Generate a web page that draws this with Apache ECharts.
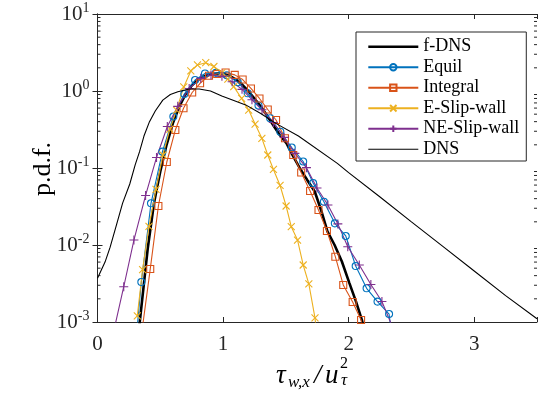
<!DOCTYPE html>
<html>
<head>
<meta charset="utf-8">
<script src="https://cdn.jsdelivr.net/npm/echarts@6/dist/echarts.min.js"></script>
<style>
  html, body { margin: 0; padding: 0; background: #fff; }
  #chart { width: 540px; height: 400px; }
</style>
</head>
<body>
<div id="chart"></div>
<script>
// f-DNS (thick black, no markers)
const fdnsX = [0.33, 0.35, 0.40, 0.45, 0.50, 0.55, 0.60, 0.65, 0.70, 0.75, 0.80, 0.85, 0.90, 0.95, 1.00,
  1.05, 1.10, 1.15, 1.20, 1.25, 1.30, 1.35, 1.40, 1.45, 1.506, 1.55, 1.612, 1.67, 1.73, 1.78, 1.831,
  1.888, 1.946, 2.006, 2.058, 2.106, 2.15];
const fdnsY = [0.0008, 0.0016, 0.009, 0.035, 0.09, 0.2, 0.38, 0.62, 0.9, 1.18, 1.4, 1.55, 1.64, 1.68, 1.68,
  1.58, 1.42, 1.22, 1.0, 0.8, 0.63, 0.48, 0.36, 0.27, 0.209, 0.15, 0.099, 0.07, 0.0495, 0.0285, 0.015,
  0.01, 0.0061, 0.0032, 0.00185, 0.00106, 0.0005];

// Equil (blue circles)
const equilX = [0.264, 0.349, 0.426, 0.517, 0.604, 0.691, 0.777, 0.856, 0.943, 1.030, 1.117, 1.196, 1.282,
  1.375, 1.456, 1.547, 1.638, 1.717, 1.803, 1.890, 1.977, 2.056, 2.143, 2.230, 2.322, 2.41];
const equilY = [0.0001, 0.0033, 0.0348, 0.163, 0.467, 0.914, 1.39, 1.69, 1.72, 1.6, 1.3, 0.933, 0.649,
  0.442, 0.296, 0.1845, 0.1214, 0.0638, 0.0365, 0.0191, 0.0131, 0.00533, 0.00274, 0.00184, 0.00127, 0.0001];

// Integral (orange squares)
const integralX = [0.353, 0.420, 0.485, 0.552, 0.620, 0.685, 0.754, 0.817, 0.888, 0.953, 1.020, 1.093, 1.156,
  1.222, 1.290, 1.356, 1.422, 1.493, 1.559, 1.622, 1.693, 1.760, 1.827, 1.894, 1.957, 2.032, 2.099, 2.166];
const integralY = [0.00074, 0.00487, 0.0321, 0.1197, 0.312, 0.596, 0.956, 1.26, 1.58, 1.66, 1.74, 1.62, 1.41,
  1.08, 0.80, 0.575, 0.42, 0.243, 0.1475, 0.0875, 0.0503, 0.0285, 0.0152, 0.00705, 0.00303, 0.00182, 0.00106, 0.0004];

// E-Slip-wall (yellow crosses)
const eslipX = [0.317, 0.359, 0.410, 0.466, 0.521, 0.576, 0.630, 0.687, 0.743, 0.796, 0.862, 0.927, 0.991,
  1.038, 1.085, 1.148, 1.204, 1.255, 1.309, 1.356, 1.401, 1.454, 1.502, 1.543, 1.593, 1.638, 1.683, 1.732, 1.78];
const eslipY = [0.0012, 0.0048, 0.0174, 0.0526, 0.1475, 0.32, 0.566, 1.13, 1.82, 2.18, 2.33, 2.08, 1.73,
  1.43, 1.14, 0.80, 0.566, 0.372, 0.243, 0.1475, 0.0957, 0.0593, 0.0321, 0.0173, 0.0116, 0.0055, 0.00312, 0.00113, 0.0002];

// NE-Slip-wall (purple plus)
const neslipX = [0.126, 0.209, 0.290, 0.383, 0.470, 0.556, 0.639, 0.730, 0.822, 0.904, 0.991, 1.072, 1.151,
  1.230, 1.31, 1.40, 1.486, 1.572, 1.664, 1.748, 1.835, 1.914, 1.993, 2.085, 2.177, 2.265, 2.356];
const neslipY = [0.00072, 0.00287, 0.0116, 0.044, 0.137, 0.346, 0.632, 1.08, 1.46, 1.61, 1.55, 1.32, 1.05,
  0.77, 0.57, 0.39, 0.25, 0.155, 0.101, 0.055, 0.033, 0.0188, 0.0095, 0.0055, 0.00307, 0.00185, 0.00081];

// DNS (thin black)
const dnsX = [0, 0.06, 0.1, 0.15, 0.2, 0.257, 0.3, 0.335, 0.37, 0.414, 0.46, 0.52, 0.58, 0.64, 0.73, 0.81,
  0.9, 0.99, 1.08, 1.18, 1.3, 1.42, 1.6, 1.91, 2.0, 2.25, 2.5, 2.75, 3.0, 3.25, 3.5];
const dnsY = [0.0037, 0.006, 0.0093, 0.018, 0.035, 0.062, 0.11, 0.163, 0.26, 0.40, 0.55, 0.76, 0.90, 0.98, 1.06, 1.06,
  1.0, 0.86, 0.76, 0.66, 0.51, 0.38, 0.26, 0.115, 0.087, 0.042, 0.020, 0.0096, 0.0046, 0.0022, 0.0011];

const xTicks = [0, 1, 2, 3];
const yMinorTicks = [];
for (let e = -3; e < 1; e++) {
  for (let m = 2; m <= 9; m++) yMinorTicks.push(m * Math.pow(10, e));
}

const blue = '#0072BD', orange = '#D95319', yellow = '#EDB120', purple = '#7E2F8E';
const axisColor = '#262626';
const serif = 'Liberation Serif';

// plain line entries in the legend: hide the symbol
const noSymbol = { color: 'rgba(0,0,0,0)', borderColor: 'rgba(0,0,0,0)', borderWidth: 0 };
const legendData = [
  { name: 'f-DNS', itemStyle: noSymbol, lineStyle: { width: 2.6, color: '#000' } },
  { name: 'Equil' },
  { name: 'Integral' },
  { name: 'E-Slip-wall' },
  { name: 'NE-Slip-wall' },
  { name: 'DNS', itemStyle: noSymbol, lineStyle: { width: 1.1, color: '#000' } }
];

function pairs(xs, ys) {
  return xs.map((x, i) => [x, ys[i]]);
}

function markerSeries(name, xs, ys, color, symbol, size) {
  return {
    name: name,
    type: 'line',
    data: pairs(xs, ys),
    symbol: symbol,
    symbolSize: size,
    showAllSymbol: true,
    lineStyle: { color: color, width: 1.1 },
    itemStyle: { color: 'rgba(0,0,0,0)', borderColor: color, borderWidth: 1.1 },
    color: color,
    emphasis: { disabled: true },
    z: 3
  };
}

const myChart = echarts.init(document.getElementById('chart'));

const option = {
  animation: false,
  backgroundColor: '#fff',
  grid: { left: 97.5, right: 0, top: 14, bottom: 78 },
  legend: {
    data: legendData,
    orient: 'vertical',
    left: 356,
    top: 32,
    padding: [5, 7, 2, 11],
    itemWidth: 50,
    itemHeight: 8,
    itemGap: 1,
    borderColor: axisColor,
    borderWidth: 1,
    backgroundColor: '#fff',
    textStyle: { fontFamily: serif, fontSize: 18, color: '#000', lineHeight: 19.5 }
  },
  xAxis: [
    {
      type: 'value', min: 0, max: 3.5, interval: 1,
      axisLine: { lineStyle: { color: axisColor } },
      axisTick: { inside: true, length: 5, lineStyle: { color: axisColor } },
      axisLabel: {
        color: axisColor, fontFamily: serif, fontSize: 21, margin: 12,
        formatter: v => (xTicks.indexOf(v) >= 0 ? String(v) : '')
      },
      splitLine: { show: false }
    },
    {
      type: 'value', min: 0, max: 3.5, interval: 1, position: 'top',
      axisLine: { lineStyle: { color: axisColor } },
      axisTick: { inside: true, length: 5, lineStyle: { color: axisColor } },
      axisLabel: { show: false },
      splitLine: { show: false }
    }
  ],
  yAxis: [
    {
      type: 'log', logBase: 10, min: 0.001, max: 10,
      axisLine: { show: true, lineStyle: { color: axisColor } },
      axisTick: { inside: true, length: 5, lineStyle: { color: axisColor } },
      axisLabel: {
        color: axisColor, fontFamily: serif, margin: 8,
        formatter: v => '{b|10}{s|' + Math.round(Math.log10(v)) + '}',
        rich: {
          b: { fontFamily: serif, fontSize: 21, color: axisColor },
          s: { fontFamily: serif, fontSize: 14, color: axisColor, padding: [0, 0, 11, 0] }
        }
      },
      splitLine: { show: false }
    },
    {
      type: 'log', logBase: 10, min: 0.001, max: 10, position: 'right',
      axisLine: { show: true, lineStyle: { color: axisColor } },
      axisTick: { inside: true, length: 5, lineStyle: { color: axisColor } },
      axisLabel: { show: false },
      splitLine: { show: false }
    }
  ],
  graphic: [
    { type: 'text', x: 43, y: 169, rotation: Math.PI / 2,
      style: { text: 'p.d.f.', font: '26px "Liberation Serif"', fill: '#000', textAlign: 'center', textVerticalAlign: 'middle' } },
    { type: 'text', x: 276, y: 376,
      style: { text: 'τ', font: 'italic 27px "Liberation Serif"', fill: '#000', textAlign: 'left', textVerticalAlign: 'middle' } },
    { type: 'text', x: 288, y: 383,
      style: { text: 'w,x', font: 'italic 17px "Liberation Serif"', fill: '#000', textAlign: 'left', textVerticalAlign: 'middle' } },
    { type: 'text', x: 314, y: 376,
      style: { text: '/', font: 'italic 27px "Liberation Serif"', fill: '#000', textAlign: 'left', textVerticalAlign: 'middle' } },
    { type: 'text', x: 325, y: 376,
      style: { text: 'u', font: 'italic 27px "Liberation Serif"', fill: '#000', textAlign: 'left', textVerticalAlign: 'middle' } },
    { type: 'text', x: 340, y: 364,
      style: { text: '2', font: '16px "Liberation Serif"', fill: '#000', textAlign: 'left', textVerticalAlign: 'middle' } },
    { type: 'text', x: 341, y: 381,
      style: { text: 'τ', font: 'italic 17px "Liberation Serif"', fill: '#000', textAlign: 'left', textVerticalAlign: 'middle' } }
  ],
  series: [
    {
      name: 'f-DNS', type: 'line', data: pairs(fdnsX, fdnsY), symbol: 'none',
      lineStyle: { color: '#000', width: 2.6 }, itemStyle: { color: '#000' }, color: '#000',
      emphasis: { disabled: true }, z: 2
    },
    markerSeries('Equil', equilX, equilY, blue, 'circle', 7),
    markerSeries('Integral', integralX, integralY, orange, 'rect', 7),
    markerSeries('E-Slip-wall', eslipX, eslipY, yellow, 'path://M0,0L10,10M10,0L0,10', 7),
    markerSeries('NE-Slip-wall', neslipX, neslipY, purple, 'path://M5,0L5,10M0,5L10,5', 9),
    {
      name: 'DNS', type: 'line', data: pairs(dnsX, dnsY), symbol: 'none',
      lineStyle: { color: '#000', width: 1.1 }, itemStyle: { color: '#000' }, color: '#000',
      emphasis: { disabled: true }, z: 4
    },
    {
      name: 'minorTicks', type: 'custom', silent: true, z: 5,
      data: yMinorTicks.map(v => [0, v]),
      renderItem: function (params, api) {
        const left = api.coord([0, api.value(1)]);
        const right = api.coord([3.5, api.value(1)]);
        const st = { stroke: axisColor, lineWidth: 1 };
        return {
          type: 'group',
          children: [
            { type: 'line', shape: { x1: left[0], y1: left[1], x2: left[0] + 3, y2: left[1] }, style: st },
            { type: 'line', shape: { x1: right[0] - 3, y1: right[1], x2: right[0], y2: right[1] }, style: st }
          ]
        };
      }
    }
  ]
};

myChart.setOption(option);
</script>
</body>
</html>
